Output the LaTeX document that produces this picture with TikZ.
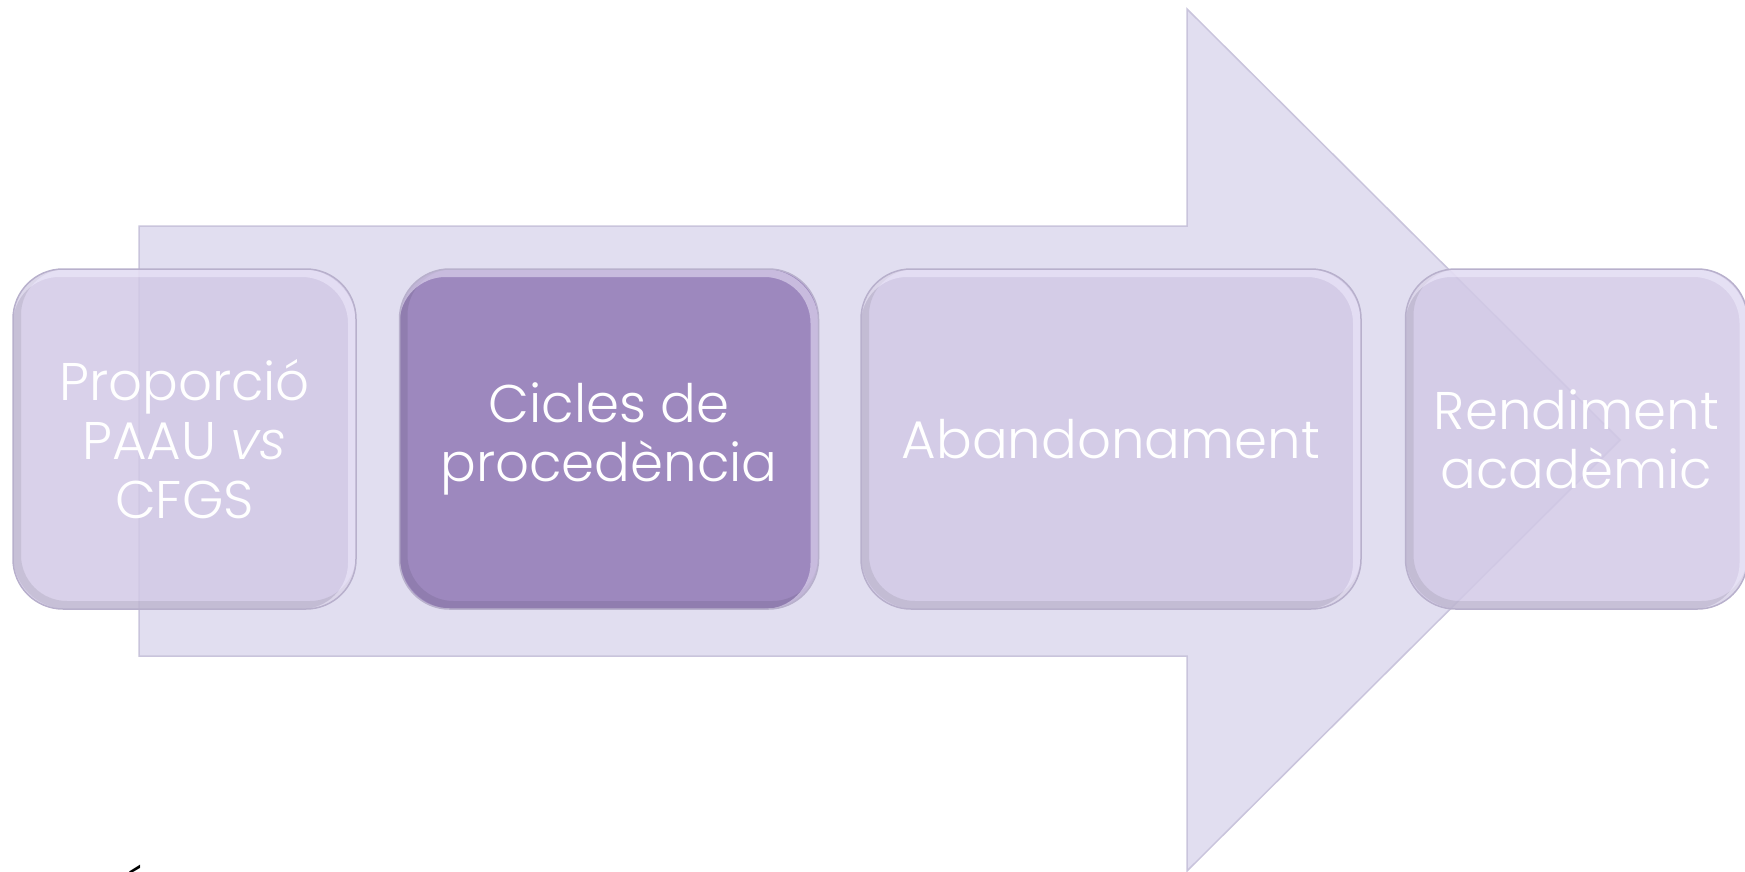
\documentclass[tikz,border=0pt]{standalone}
\usepackage{fontspec}
\setmainfont{Poppins}[UprightFont=* Light, ItalicFont=* Light Italic]
\usetikzlibrary{positioning}
\definecolor{arrowfill}{HTML}{E1DEF0}
\definecolor{arrowedge}{HTML}{C9C4DC}
\definecolor{lightfill}{HTML}{D2C9E6}
\definecolor{darkfill}{HTML}{9D88BE}
\definecolor{boxedge}{HTML}{B8B0CC}
\definecolor{glow}{HTML}{F3EEFF}

\begin{document}
\begin{tikzpicture}[x=1pt,y=-1pt]
        \tikzset{
            bevel/.style={path picture={
                \draw[black, opacity=0.08, line width=8pt, rounded corners=50pt] ([shift={(4pt,4pt)}]path picture bounding box.north west) rectangle ([shift={(4pt,4pt)}]path picture bounding box.south east);
                \draw[glow, opacity=0.5, line width=8pt, rounded corners=50pt] ([shift={(-4pt,-4pt)}]path picture bounding box.north west) rectangle ([shift={(-4pt,-4pt)}]path picture bounding box.south east);
            }},
            stage/.style={draw=boxedge, line width=1.5pt, rounded corners=50pt, fill=lightfill, fill opacity=0.85, draw opacity=1, text opacity=1, text=white, minimum height=340pt, align=center, inner sep=0pt, font=\fontsize{53}{59}\selectfont, bevel},
            current/.style={stage, fill=darkfill, fill opacity=1}
        }
        \useasboundingbox (0,0) rectangle (1745,872);

        \filldraw[fill=arrowfill, draw=arrowedge, line width=1.5pt] (139,226) -- (1187,226) -- (1187,9) -- (1620,440) -- (1187,871) -- (1187,656) -- (139,656) -- cycle;

        \node[stage, minimum width=343pt](proporcio)at(184.5,439){Proporció\\PAAU \textit{vs}\\CFGS};
        \node[current, minimum width=419pt, right=42pt of proporcio](cicles){Cicles de\\procedència};
        \node[stage, minimum width=500pt, right=41pt of cicles](abandonament){Abandonament};
        \node[stage, minimum width=342pt, right=43pt of abandonament](rendiment){Rendiment\\acadèmic};

        \node[anchor=north, inner sep=0pt, font=\fontsize{53}{59}\selectfont](titol)at(136,865){É};
    \end{tikzpicture}
\end{document}
